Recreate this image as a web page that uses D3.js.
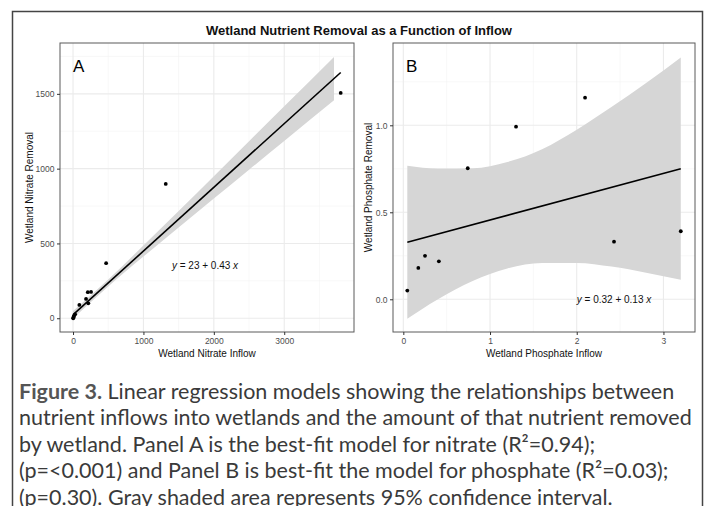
<!DOCTYPE html>
<html>
<head>
<meta charset="utf-8">
<script src="https://cdn.jsdelivr.net/npm/d3@7"></script>
<style>
  html, body { margin: 0; padding: 0; background: #fff; }
  svg { display: block; }
</style>
</head>
<body>
<svg id="chart" width="711" height="506"></svg>
<script>
// ---------------- data ----------------
const chartTitle = "Wetland Nutrient Removal as a Function of Inflow";

// Panel A: nitrate
const nitrateInflow  = [2, 6, 10, 15, 30, 90, 185, 210, 217, 256, 470, 1317, 3802];
const nitrateRemoval = [0, 4, 10, 18, 26, 89, 129, 174, 100, 176, 368, 898, 1506];
const nitrateCoef = [23, 0.426];               // intercept, slope
const nitrateBandX  = [0, 500, 1000, 1500, 2000, 2500, 3000, 3707];
const nitrateBandLo = [-2, 213, 412, 607, 800, 993, 1185, 1457];
const nitrateBandHi = [48, 259, 486, 717, 950, 1183, 1417, 1747];
const nitrateXTicks = [0, 1000, 2000, 3000];
const nitrateYTicks = [0, 500, 1000, 1500];
const nitrateXMinor = [500, 1500, 2500, 3500];
const nitrateYMinor = [250, 750, 1250, 1750];
const nitrateEq = { x: 1875, y: 350, pre: "y", body: " = 23 + 0.43 ", post: "x" };

// Panel B: phosphate
const phosphateInflow  = [0.046, 0.173, 0.25, 0.41, 0.743, 1.30, 2.096, 2.43, 3.2];
const phosphateRemoval = [0.05, 0.18, 0.25, 0.218, 0.753, 0.992, 1.159, 0.331, 0.391];
const phosphateCoef = [0.322, 0.134];
const phosphateBandX  = [0.046, 0.4, 0.8, 1.2, 1.6, 2.0, 2.4, 2.8, 3.2];
const phosphateBandLo = [-0.112, 0.000, 0.105, 0.177, 0.209, 0.209, 0.188, 0.153, 0.112];
const phosphateBandHi = [0.768, 0.752, 0.753, 0.789, 0.863, 0.975, 1.105, 1.243, 1.390];
const phosphateXTicks = [0, 1, 2, 3];
const phosphateYTicks = [0, 0.5, 1.0];
const phosphateXMinor = [0.5, 1.5, 2.5];
const phosphateYMinor = [0.25, 0.75, 1.25];
const phosphateEq = { x: 2.43, y: 0.0, pre: "y", body: " = 0.32 + 0.13 ", post: "x" };

const captionLines = [
  [{t: "Figure 3.", b: true}, {t: " Linear regression models showing the relationships between"}],
  [{t: "nutrient inflows into wetlands and the amount of that nutrient removed"}],
  [{t: "by wetland. Panel A is the best-fit model for nitrate (R²=0.94);"}],
  [{t: "(p=<0.001) and Panel B is best-fit the model for phosphate (R²=0.03);"}],
  [{t: "(p=0.30). Gray shaded area represents 95% confidence interval."}]
];

// ---------------- drawing ----------------
const svg = d3.select("#chart");
const FONT = "'Liberation Sans', Arial, Helvetica, sans-serif";

// outer frame
svg.append("rect").attr("x", 12.5).attr("y", 11.5).attr("width", 690).attr("height", 520)
  .attr("fill", "#fff").attr("stroke", "#444").attr("stroke-width", 1.5);

svg.append("text").attr("x", 359).attr("y", 34.5).attr("text-anchor", "middle")
  .attr("font-family", FONT).attr("font-size", 13).attr("font-weight", "bold")
  .attr("fill", "#111").text(chartTitle);

function panel(cfg) {
  const x = d3.scaleLinear().domain(cfg.xDom).range([cfg.left, cfg.right]);
  const y = d3.scaleLinear().domain(cfg.yDom).range([cfg.bottom, cfg.top]);
  const g = svg.append("g");

  // grid
  const grid = g.append("g");
  cfg.xMinor.forEach(v => grid.append("line").attr("x1", x(v)).attr("x2", x(v))
    .attr("y1", cfg.top).attr("y2", cfg.bottom).attr("stroke", "#f3f3f3").attr("stroke-width", 0.6));
  cfg.yMinor.filter(v => v < cfg.yDom[1]).forEach(v => grid.append("line").attr("y1", y(v)).attr("y2", y(v))
    .attr("x1", cfg.left).attr("x2", cfg.right).attr("stroke", "#f3f3f3").attr("stroke-width", 0.6));
  cfg.xTicks.forEach(v => grid.append("line").attr("x1", x(v)).attr("x2", x(v))
    .attr("y1", cfg.top).attr("y2", cfg.bottom).attr("stroke", "#ebebeb").attr("stroke-width", 1.1));
  cfg.yTicks.forEach(v => grid.append("line").attr("y1", y(v)).attr("y2", y(v))
    .attr("x1", cfg.left).attr("x2", cfg.right).attr("stroke", "#ebebeb").attr("stroke-width", 1.1));

  // ribbon
  const band = cfg.bandX.map((bx, i) => ({x: bx, lo: cfg.bandLo[i], hi: cfg.bandHi[i]}));
  g.append("path").datum(band)
    .attr("d", d3.area().curve(d3.curveMonotoneX).x(d => x(d.x)).y0(d => y(d.lo)).y1(d => y(d.hi)))
    .attr("fill", "#d6d6d6");

  // fit line
  const x0 = d3.min(cfg.xs), x1 = d3.max(cfg.xs);
  g.append("path").datum([x0, x1])
    .attr("d", d3.line().x(d => x(d)).y(d => y(cfg.coef[0] + cfg.coef[1] * d)))
    .attr("stroke", "#000").attr("stroke-width", 1.6).attr("fill", "none");

  // points
  g.selectAll("circle.pt").data(cfg.xs.map((v, i) => [v, cfg.ys[i]])).join("circle")
    .attr("cx", d => x(d[0])).attr("cy", d => y(d[1])).attr("r", 1.9).attr("fill", "#000");

  // border
  g.append("rect").attr("x", cfg.left).attr("y", cfg.top)
    .attr("width", cfg.right - cfg.left).attr("height", cfg.bottom - cfg.top)
    .attr("fill", "none").attr("stroke", "#5a5a5a").attr("stroke-width", 1);

  // axes
  const xAxis = d3.axisBottom(x).tickValues(cfg.xTicks).tickSize(3).tickPadding(2.5).tickFormat(cfg.xFmt);
  const yAxis = d3.axisLeft(y).tickValues(cfg.yTicks).tickSize(3).tickPadding(2.5).tickFormat(cfg.yFmt);
  const gx = g.append("g").attr("transform", `translate(0,${cfg.bottom})`).call(xAxis);
  const gy = g.append("g").attr("transform", `translate(${cfg.left},0)`).call(yAxis);
  [gx, gy].forEach(a => {
    a.select(".domain").remove();
    a.selectAll(".tick line").attr("stroke", "#333");
    a.selectAll(".tick text").attr("fill", "#4d4d4d").attr("font-size", 8.5).attr("font-family", FONT);
  });

  // axis titles
  g.append("text").attr("x", (cfg.left + cfg.right) / 2).attr("y", 356.5).attr("text-anchor", "middle")
    .attr("font-family", FONT).attr("font-size", 10).attr("fill", "#111").text(cfg.xTitle);
  g.append("text").attr("transform", `translate(${cfg.yTitleX},${(cfg.top + cfg.bottom) / 2}) rotate(-90)`)
    .attr("text-anchor", "middle").attr("font-family", FONT).attr("font-size", 10).attr("fill", "#111")
    .text(cfg.yTitle);

  // panel tag
  g.append("text").attr("x", cfg.left + 13).attr("y", 72).attr("font-family", FONT)
    .attr("font-size", 17).attr("fill", "#000").text(cfg.tag);

  // equation
  const eq = g.append("text").attr("x", x(cfg.eq.x)).attr("y", y(cfg.eq.y) + 3.5).attr("text-anchor", "middle")
    .attr("font-family", FONT).attr("font-size", 10).attr("fill", "#111");
  eq.append("tspan").attr("font-style", "italic").text(cfg.eq.pre);
  eq.append("tspan").text(cfg.eq.body);
  eq.append("tspan").attr("font-style", "italic").text(cfg.eq.post);
}

panel({
  left: 60, right: 354, top: 43, bottom: 332,
  xDom: [-185, 3991], yDom: [-92, 1840],
  xs: nitrateInflow, ys: nitrateRemoval, coef: nitrateCoef,
  bandX: nitrateBandX, bandLo: nitrateBandLo, bandHi: nitrateBandHi,
  xTicks: nitrateXTicks, yTicks: nitrateYTicks, xMinor: nitrateXMinor, yMinor: nitrateYMinor,
  xFmt: d3.format("d"), yFmt: d3.format("d"),
  xTitle: "Wetland Nitrate Inflow", yTitle: "Wetland Nitrate Removal", yTitleX: 33,
  tag: "A", eq: nitrateEq
});

panel({
  left: 393, right: 695, top: 43, bottom: 332,
  xDom: [-0.119, 3.364], yDom: [-0.188, 1.473],
  xs: phosphateInflow, ys: phosphateRemoval, coef: phosphateCoef,
  bandX: phosphateBandX, bandLo: phosphateBandLo, bandHi: phosphateBandHi,
  xTicks: phosphateXTicks, yTicks: phosphateYTicks, xMinor: phosphateXMinor, yMinor: phosphateYMinor,
  xFmt: d3.format("d"), yFmt: d3.format(".1f"),
  xTitle: "Wetland Phosphate Inflow", yTitle: "Wetland Phosphate Removal", yTitleX: 372,
  tag: "B", eq: phosphateEq
});

// caption
const cap = svg.append("g");
captionLines.forEach((line, i) => {
  const t = cap.append("text").attr("x", 19).attr("y", 399 + i * 26.4)
    .attr("font-family", "Lato, 'Open Sans', sans-serif").attr("font-size", 21.5).attr("fill", "#3a3a3a");
  line.forEach(seg => {
    const s = t.append("tspan").text(seg.t);
    if (seg.b) s.attr("font-weight", "bold").attr("fill", "#555");
  });
});
</script>
</body>
</html>
